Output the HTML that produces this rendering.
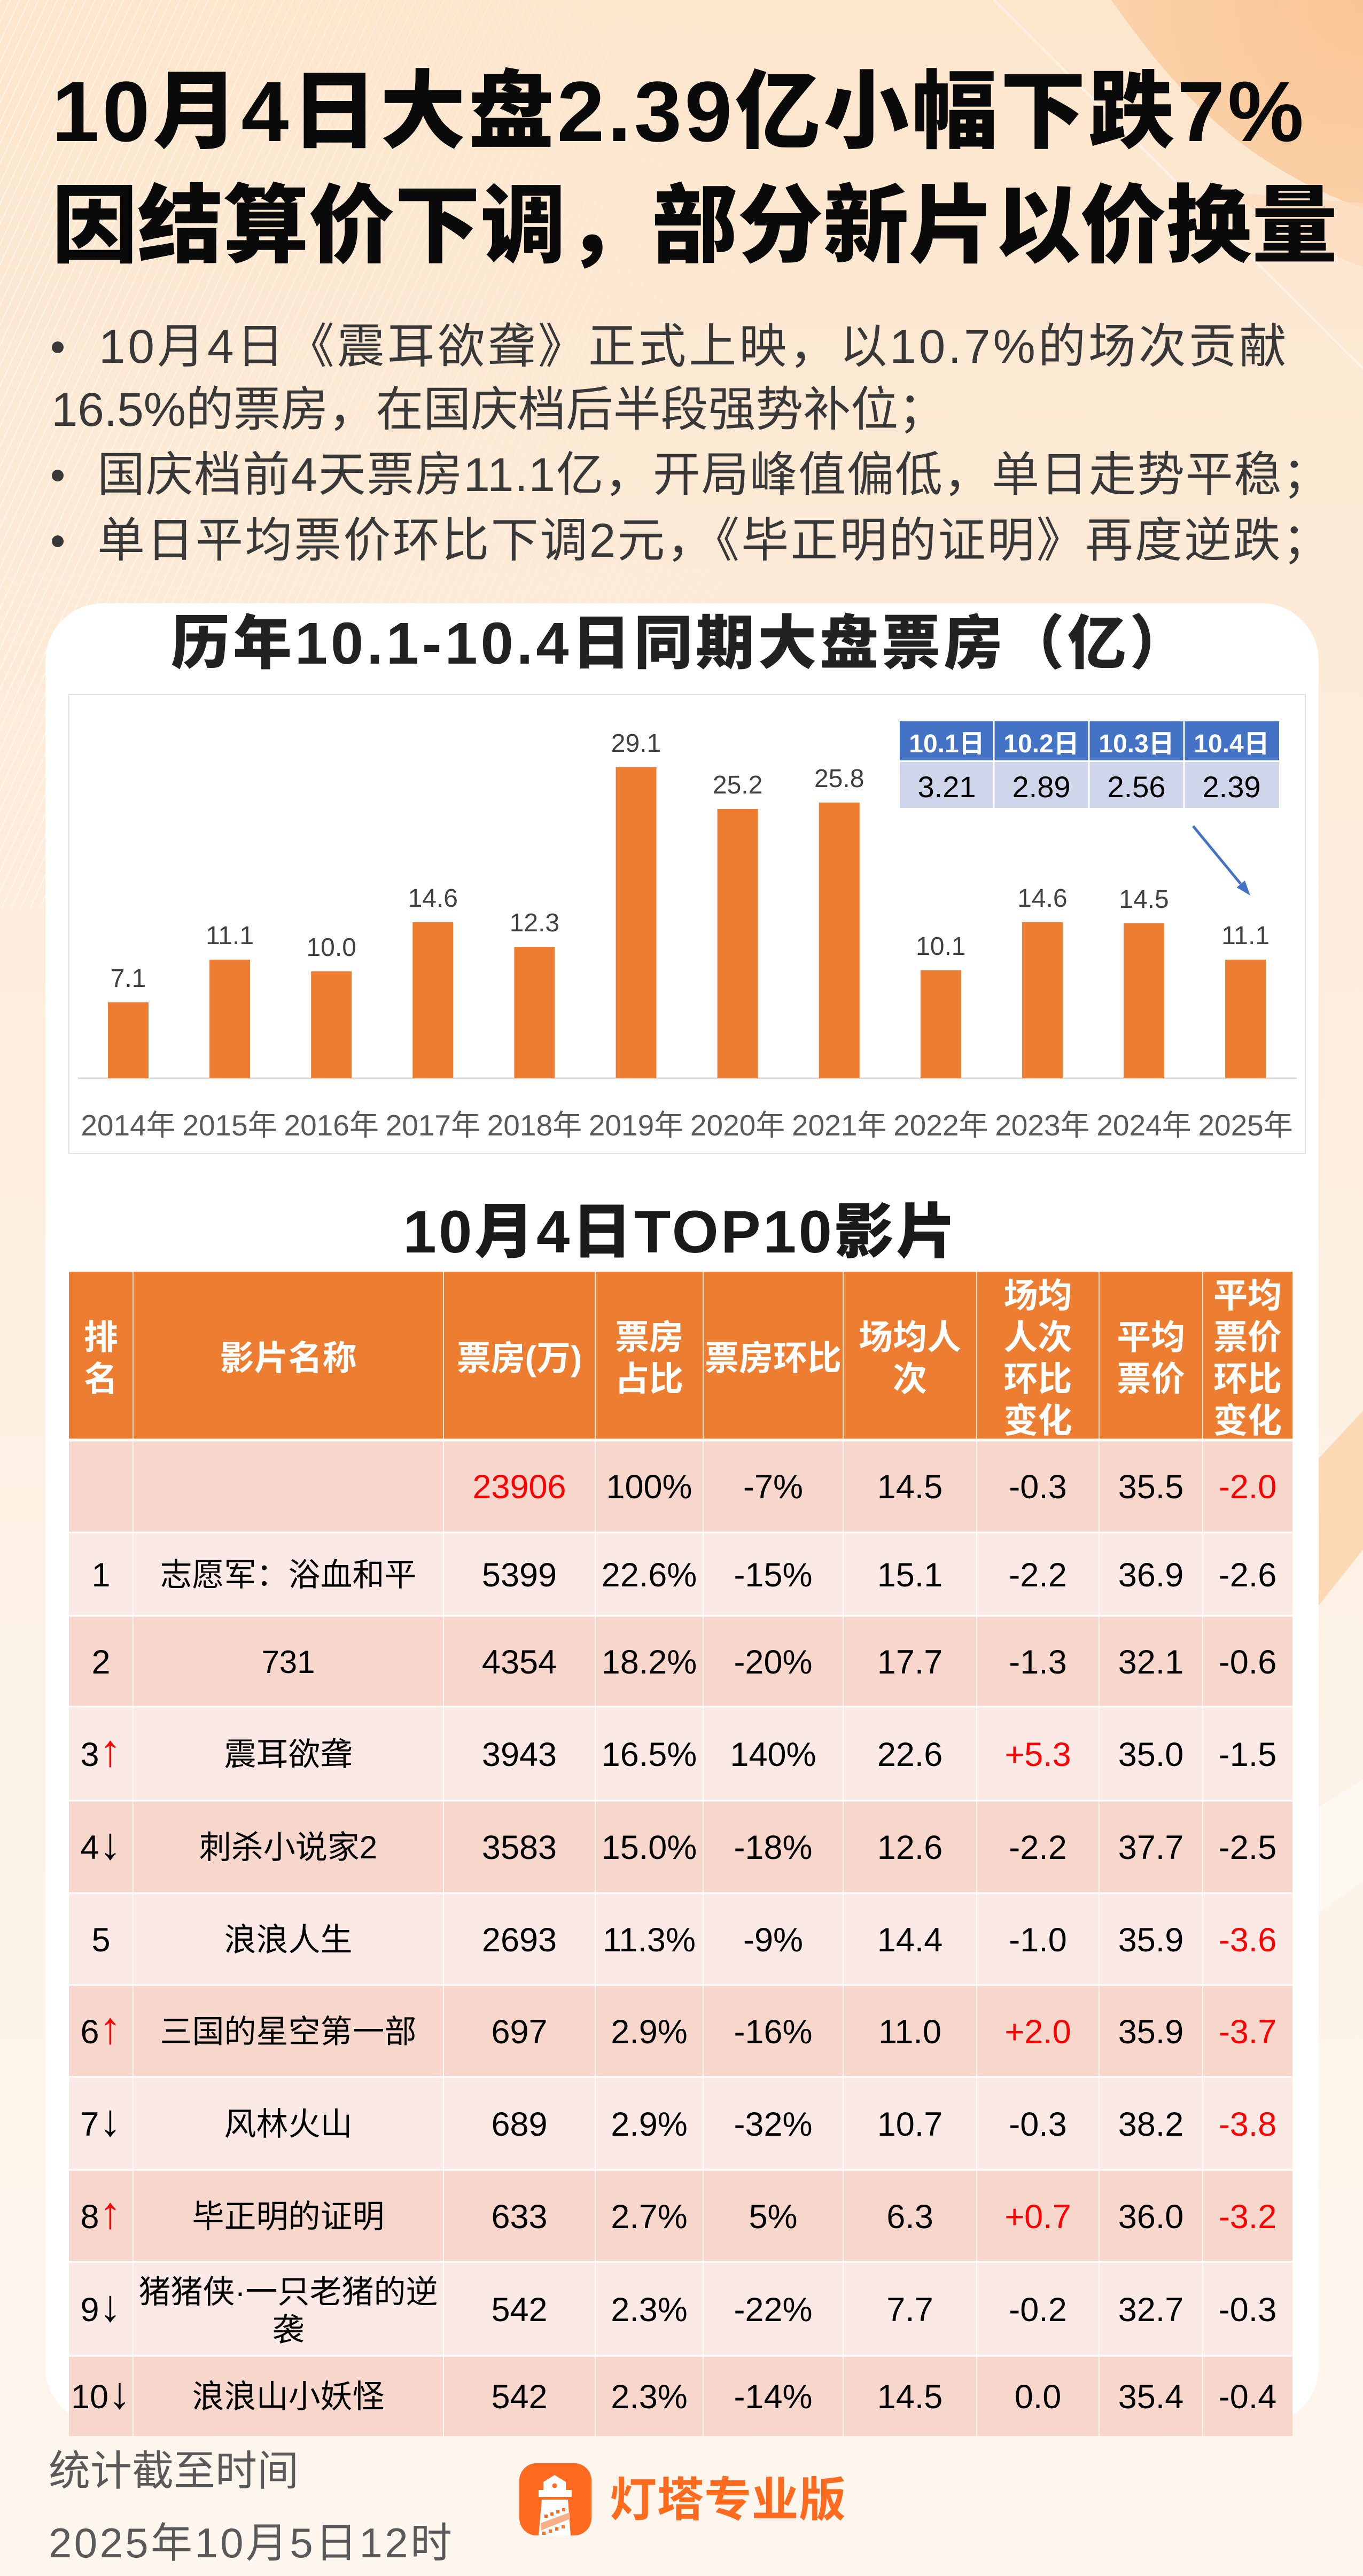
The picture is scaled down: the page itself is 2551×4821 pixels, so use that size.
<!DOCTYPE html>
<html><head><meta charset="utf-8">
<style>
html,body{margin:0;padding:0;width:2551px;height:4821px;overflow:hidden;background:#fdf1e4}
svg{display:block}
text{font-family:"Liberation Sans","Noto Sans CJK SC",sans-serif}
</style></head>
<body>
<svg width="2551" height="4821" viewBox="0 0 2551 4821" xmlns="http://www.w3.org/2000/svg">
<defs>
<linearGradient id="bg" x1="0" y1="0" x2="0" y2="1">
<stop offset="0" stop-color="#fce6cc"/><stop offset="0.25" stop-color="#fdebd8"/>
<stop offset="0.6" stop-color="#fdf1e5"/><stop offset="1" stop-color="#fdf6ee"/>
</linearGradient>
<radialGradient id="tr" cx="2551" cy="0" r="750" gradientUnits="userSpaceOnUse">
<stop offset="0" stop-color="#f9c18e"/><stop offset="1" stop-color="#fcd8b2"/>
</radialGradient>
<pattern id="stripes" width="16" height="16" patternUnits="userSpaceOnUse" patternTransform="rotate(25)">
<rect width="2.5" height="16" fill="#fff"/>
</pattern>
<linearGradient id="fade" x1="0" y1="0" x2="1" y2="0">
<stop offset="0" stop-color="#fff" stop-opacity="0.5"/><stop offset="1" stop-color="#fff" stop-opacity="0"/>
</linearGradient>
<mask id="m"><rect x="0" y="0" width="1500" height="1700" fill="url(#fade)"/></mask>
</defs>

<!-- background -->
<rect x="0" y="0" width="2551" height="4821" fill="url(#bg)"/>
<rect x="0" y="0" width="1500" height="1700" fill="url(#stripes)" mask="url(#m)"/>
<path d="M2080 0 C2180 140 2300 300 2551 390 L2551 0 Z" fill="url(#tr)" opacity="0.9"/>
<path d="M2300 360 C2380 420 2470 470 2551 500 L2551 380 Z" fill="#fcdcbc" opacity="0.7"/>
<line x1="1860" y1="0" x2="2551" y2="690" stroke="#fff" stroke-opacity="0.45" stroke-width="5"/>
<polygon points="2440,2760 2551,2640 2551,2900 2440,3040" fill="#fbd0a4" opacity="0.75"/>
<polygon points="2440,3400 2551,3330 2551,3520 2440,3600" fill="#fff" opacity="0.45"/>

<!-- title -->
<text x="97" y="264" font-size="160" font-weight="900" fill="#0a0a0a" textLength="2343" lengthAdjust="spacing">10月4日大盘2.39亿小幅下跌7%</text>
<text x="97" y="478" font-size="160" font-weight="900" fill="#0a0a0a" textLength="2406" lengthAdjust="spacing">因结算价下调，部分新片以价换量</text>

<!-- bullets -->
<g fill="#383838" font-size="89">
<circle cx="108" cy="650" r="11"/>
<circle cx="108" cy="890" r="11"/>
<circle cx="108" cy="1013" r="11"/>
<text x="185" y="679" textLength="2223" lengthAdjust="spacing">10月4日《震耳欲聋》正式上映，以10.7%的场次贡献</text>
<text x="96" y="797" textLength="1674" lengthAdjust="spacing">16.5%的票房，在国庆档后半段强势补位；</text>
<text x="182" y="919" textLength="2307" lengthAdjust="spacing">国庆档前4天票房11.1亿，开局峰值偏低，单日走势平稳；</text>
<text x="182" y="1042" textLength="2307" lengthAdjust="spacing">单日平均票价环比下调2元，《毕正明的证明》再度逆跌；</text>
</g>

<!-- card -->
<rect x="85" y="1129" width="2383" height="3409" rx="108" fill="#ffffff"/>

<!-- chart title -->
<text x="1272" y="1242" text-anchor="middle" font-size="110" font-weight="900" fill="#222" textLength="1904" lengthAdjust="spacing">历年10.1-10.4日同期大盘票房（亿）</text>

<!-- chart box -->
<rect x="129" y="1300" width="2314" height="859" fill="none" stroke="#e2e2e2" stroke-width="2"/>
<line x1="146" y1="2018" x2="2427" y2="2018" stroke="#d9d9d9" stroke-width="3"/>

<!-- bars -->
<g fill="#ed7d31">
<rect x="202" y="1876" width="76" height="142"/>
<rect x="392.1" y="1796" width="76" height="222"/>
<rect x="582.2" y="1818" width="76" height="200"/>
<rect x="772.3" y="1726" width="76" height="292"/>
<rect x="962.4" y="1772" width="76" height="246"/>
<rect x="1152.5" y="1436" width="76" height="582"/>
<rect x="1342.6" y="1514" width="76" height="504"/>
<rect x="1532.7" y="1502" width="76" height="516"/>
<rect x="1722.8" y="1816" width="76" height="202"/>
<rect x="1912.9" y="1726" width="76" height="292"/>
<rect x="2103" y="1728" width="76" height="290"/>
<rect x="2293.1" y="1796" width="76" height="222"/>
</g>
<g fill="#404040" font-size="48" text-anchor="middle">
<text x="240" y="1847">7.1</text>
<text x="430.1" y="1767">11.1</text>
<text x="620.2" y="1789">10.0</text>
<text x="810.3" y="1697">14.6</text>
<text x="1000.4" y="1743">12.3</text>
<text x="1190.5" y="1407">29.1</text>
<text x="1380.6" y="1485">25.2</text>
<text x="1570.7" y="1473">25.8</text>
<text x="1760.8" y="1787">10.1</text>
<text x="1950.9" y="1697">14.6</text>
<text x="2141" y="1699">14.5</text>
<text x="2331.1" y="1767">11.1</text>
</g>
<g fill="#595959" font-size="55" text-anchor="middle">
<text x="240" y="2125">2014年</text>
<text x="430.1" y="2125">2015年</text>
<text x="620.2" y="2125">2016年</text>
<text x="810.3" y="2125">2017年</text>
<text x="1000.4" y="2125">2018年</text>
<text x="1190.5" y="2125">2019年</text>
<text x="1380.6" y="2125">2020年</text>
<text x="1570.7" y="2125">2021年</text>
<text x="1760.8" y="2125">2022年</text>
<text x="1950.9" y="2125">2023年</text>
<text x="2141" y="2125">2024年</text>
<text x="2331.1" y="2125">2025年</text>
</g>

<!-- mini table -->
<rect x="1684" y="1350" width="710" height="73" fill="#4472c4"/>
<rect x="1684" y="1426" width="710" height="86" fill="#cfd5ea"/>
<g stroke="#fff" stroke-width="3">
<line x1="1860" y1="1350" x2="1860" y2="1512"/>
<line x1="2038" y1="1350" x2="2038" y2="1512"/>
<line x1="2216" y1="1350" x2="2216" y2="1512"/>
</g>
<g fill="#fff" font-size="48" font-weight="700" text-anchor="middle">
<text x="1772" y="1408">10.1日</text>
<text x="1949" y="1408">10.2日</text>
<text x="2127" y="1408">10.3日</text>
<text x="2305" y="1408">10.4日</text>
</g>
<g fill="#000" font-size="56" text-anchor="middle">
<text x="1772" y="1492">3.21</text>
<text x="1949" y="1492">2.89</text>
<text x="2127" y="1492">2.56</text>
<text x="2305" y="1492">2.39</text>
</g>
<line x1="2233" y1="1546" x2="2322" y2="1654" stroke="#4472c4" stroke-width="5"/>
<polygon points="2340,1676 2314.5,1660.7 2329.9,1647.9" fill="#4472c4"/>

<!-- table title -->
<text x="1272" y="2344" text-anchor="middle" font-size="112" font-weight="900" fill="#1a1a1a" textLength="1035" lengthAdjust="spacing">10月4日TOP10影片</text>

<!-- table -->
<rect x="129" y="2380" width="2290" height="315" fill="#ed7d31"/>
<g>
<rect x="129" y="2695" width="2290" height="173" fill="#f7d6cc"/>
<rect x="129" y="2868" width="2290" height="156" fill="#fae9e4"/>
<rect x="129" y="3024" width="2290" height="170" fill="#f7d6cc"/>
<rect x="129" y="3194" width="2290" height="176" fill="#fae9e4"/>
<rect x="129" y="3370" width="2290" height="173" fill="#f7d6cc"/>
<rect x="129" y="3543" width="2290" height="172" fill="#fae9e4"/>
<rect x="129" y="3715" width="2290" height="172" fill="#f7d6cc"/>
<rect x="129" y="3887" width="2290" height="174" fill="#fae9e4"/>
<rect x="129" y="4061" width="2290" height="172" fill="#f7d6cc"/>
<rect x="129" y="4233" width="2290" height="176" fill="#fae9e4"/>
<rect x="129" y="4409" width="2290" height="150" fill="#f7d6cc"/>
</g>
<g stroke="#fff" stroke-width="3">
<line x1="129" y1="2695" x2="2419" y2="2695" stroke-width="5"/>
<line x1="129" y1="2868" x2="2419" y2="2868"/>
<line x1="129" y1="3024" x2="2419" y2="3024"/>
<line x1="129" y1="3194" x2="2419" y2="3194"/>
<line x1="129" y1="3370" x2="2419" y2="3370"/>
<line x1="129" y1="3543" x2="2419" y2="3543"/>
<line x1="129" y1="3715" x2="2419" y2="3715"/>
<line x1="129" y1="3887" x2="2419" y2="3887"/>
<line x1="129" y1="4061" x2="2419" y2="4061"/>
<line x1="129" y1="4233" x2="2419" y2="4233"/>
<line x1="129" y1="4409" x2="2419" y2="4409"/>
</g>
<g stroke="#fff" stroke-opacity="0.8" stroke-width="2">
<line x1="249" y1="2380" x2="249" y2="4559"/>
<line x1="830" y1="2380" x2="830" y2="4559"/>
<line x1="1114" y1="2380" x2="1114" y2="4559"/>
<line x1="1316" y1="2380" x2="1316" y2="4559"/>
<line x1="1578" y1="2380" x2="1578" y2="4559"/>
<line x1="1828" y1="2380" x2="1828" y2="4559"/>
<line x1="2057" y1="2380" x2="2057" y2="4559"/>
<line x1="2251" y1="2380" x2="2251" y2="4559"/>
</g>

<!-- header text -->
<g fill="#fff" font-size="64" font-weight="700" text-anchor="middle">
<text x="189" y="2525">排</text><text x="189" y="2603">名</text>
<text x="539.5" y="2564">影片名称</text>
<text x="972" y="2564">票房(万)</text>
<text x="1215" y="2525">票房</text><text x="1215" y="2603">占比</text>
<text x="1447" y="2564">票房环比</text>
<text x="1703" y="2525">场均人</text><text x="1703" y="2603">次</text>
<text x="1942.5" y="2447">场均</text><text x="1942.5" y="2525">人次</text><text x="1942.5" y="2603">环比</text><text x="1942.5" y="2681">变化</text>
<text x="2154" y="2525">平均</text><text x="2154" y="2603">票价</text>
<text x="2335" y="2447">平均</text><text x="2335" y="2525">票价</text><text x="2335" y="2603">环比</text><text x="2335" y="2681">变化</text>
</g>

<!-- body text: names (CJK) -->
<g fill="#000" font-size="60" text-anchor="middle">
<text x="539.5" y="2968">志愿军：浴血和平</text>
<text x="539.5" y="3131">731</text>
<text x="539.5" y="3304">震耳欲聋</text>
<text x="539.5" y="3478">刺杀小说家2</text>
<text x="539.5" y="3651">浪浪人生</text>
<text x="539.5" y="3823">三国的星空第一部</text>
<text x="539.5" y="3996">风林火山</text>
<text x="539.5" y="4169">毕正明的证明</text>
<text x="539.5" y="4310">猪猪侠·一只老猪的逆</text>
<text x="539.5" y="4381">袭</text>
<text x="539.5" y="4506">浪浪山小妖怪</text>
</g>

<!-- body text: numbers -->
<g fill="#000" font-size="63" text-anchor="middle">
<!-- total -->
<text x="972" y="2804" fill="#ff0000">23906</text>
<text x="1215" y="2804">100%</text>
<text x="1447" y="2804">-7%</text>
<text x="1703" y="2804">14.5</text>
<text x="1942.5" y="2804">-0.3</text>
<text x="2154" y="2804">35.5</text>
<text x="2335" y="2804" fill="#ff0000">-2.0</text>
<!-- r1 -->
<text x="189" y="2969">1</text>
<text x="972" y="2969">5399</text>
<text x="1215" y="2969">22.6%</text>
<text x="1447" y="2969">-15%</text>
<text x="1703" y="2969">15.1</text>
<text x="1942.5" y="2969">-2.2</text>
<text x="2154" y="2969">36.9</text>
<text x="2335" y="2969">-2.6</text>
<!-- r2 -->
<text x="189" y="3132">2</text>
<text x="972" y="3132">4354</text>
<text x="1215" y="3132">18.2%</text>
<text x="1447" y="3132">-20%</text>
<text x="1703" y="3132">17.7</text>
<text x="1942.5" y="3132">-1.3</text>
<text x="2154" y="3132">32.1</text>
<text x="2335" y="3132">-0.6</text>
<!-- r3 -->
<text x="189" y="3305">3<tspan fill="#ff0000" font-size="84">↑</tspan></text>
<text x="972" y="3305">3943</text>
<text x="1215" y="3305">16.5%</text>
<text x="1447" y="3305">140%</text>
<text x="1703" y="3305">22.6</text>
<text x="1942.5" y="3305" fill="#ff0000">+5.3</text>
<text x="2154" y="3305">35.0</text>
<text x="2335" y="3305">-1.5</text>
<!-- r4 -->
<text x="189" y="3479">4<tspan font-size="84">↓</tspan></text>
<text x="972" y="3479">3583</text>
<text x="1215" y="3479">15.0%</text>
<text x="1447" y="3479">-18%</text>
<text x="1703" y="3479">12.6</text>
<text x="1942.5" y="3479">-2.2</text>
<text x="2154" y="3479">37.7</text>
<text x="2335" y="3479">-2.5</text>
<!-- r5 -->
<text x="189" y="3652">5</text>
<text x="972" y="3652">2693</text>
<text x="1215" y="3652">11.3%</text>
<text x="1447" y="3652">-9%</text>
<text x="1703" y="3652">14.4</text>
<text x="1942.5" y="3652">-1.0</text>
<text x="2154" y="3652">35.9</text>
<text x="2335" y="3652" fill="#ff0000">-3.6</text>
<!-- r6 -->
<text x="189" y="3824">6<tspan fill="#ff0000" font-size="84">↑</tspan></text>
<text x="972" y="3824">697</text>
<text x="1215" y="3824">2.9%</text>
<text x="1447" y="3824">-16%</text>
<text x="1703" y="3824">11.0</text>
<text x="1942.5" y="3824" fill="#ff0000">+2.0</text>
<text x="2154" y="3824">35.9</text>
<text x="2335" y="3824" fill="#ff0000">-3.7</text>
<!-- r7 -->
<text x="189" y="3997">7<tspan font-size="84">↓</tspan></text>
<text x="972" y="3997">689</text>
<text x="1215" y="3997">2.9%</text>
<text x="1447" y="3997">-32%</text>
<text x="1703" y="3997">10.7</text>
<text x="1942.5" y="3997">-0.3</text>
<text x="2154" y="3997">38.2</text>
<text x="2335" y="3997" fill="#ff0000">-3.8</text>
<!-- r8 -->
<text x="189" y="4170">8<tspan fill="#ff0000" font-size="84">↑</tspan></text>
<text x="972" y="4170">633</text>
<text x="1215" y="4170">2.7%</text>
<text x="1447" y="4170">5%</text>
<text x="1703" y="4170">6.3</text>
<text x="1942.5" y="4170" fill="#ff0000">+0.7</text>
<text x="2154" y="4170">36.0</text>
<text x="2335" y="4170" fill="#ff0000">-3.2</text>
<!-- r9 -->
<text x="189" y="4344">9<tspan font-size="84">↓</tspan></text>
<text x="972" y="4344">542</text>
<text x="1215" y="4344">2.3%</text>
<text x="1447" y="4344">-22%</text>
<text x="1703" y="4344">7.7</text>
<text x="1942.5" y="4344">-0.2</text>
<text x="2154" y="4344">32.7</text>
<text x="2335" y="4344">-0.3</text>
<!-- r10 -->
<text x="189" y="4507">10<tspan font-size="84">↓</tspan></text>
<text x="972" y="4507">542</text>
<text x="1215" y="4507">2.3%</text>
<text x="1447" y="4507">-14%</text>
<text x="1703" y="4507">14.5</text>
<text x="1942.5" y="4507">0.0</text>
<text x="2154" y="4507">35.4</text>
<text x="2335" y="4507">-0.4</text>
</g>

<!-- footer -->
<text x="91" y="4651" font-size="78" fill="#595959">统计截至时间</text>
<text x="91" y="4786" font-size="78" fill="#595959" textLength="755" lengthAdjust="spacing">2025年10月5日12时</text>

<!-- logo -->
<rect x="972" y="4610" width="135" height="135" rx="32" fill="#fe6a1f"/>
<polygon points="1017,4645 1038,4632 1059,4645 1059,4660 1017,4660" fill="#fff"/>
<circle cx="1038" cy="4652" r="4.5" fill="#fe6a1f"/>
<rect x="1008" y="4660" width="62" height="13" fill="#fff"/>
<polygon points="1014,4678 1063,4678 1068,4745 1008,4745" fill="#fff"/>
<polygon points="1012,4722 1066,4702 1067,4714 1012,4736" fill="#f9b088"/>
<g fill="#fe6a1f">
<rect x="1019" y="4706" width="6" height="6"/><rect x="1030" y="4702" width="6" height="6"/>
<rect x="1041" y="4698" width="6" height="6"/><rect x="1052" y="4694" width="6" height="6"/>
<rect x="1015" y="4738" width="6" height="6"/><rect x="1027" y="4734" width="6" height="6"/>
<rect x="1039" y="4730" width="6" height="6"/><rect x="1051" y="4726" width="6" height="6"/>
</g>
<text x="1141" y="4709" font-size="88" font-weight="700" fill="#fe6b1e" textLength="442" lengthAdjust="spacing">灯塔专业版</text>
</svg>
</body></html>
